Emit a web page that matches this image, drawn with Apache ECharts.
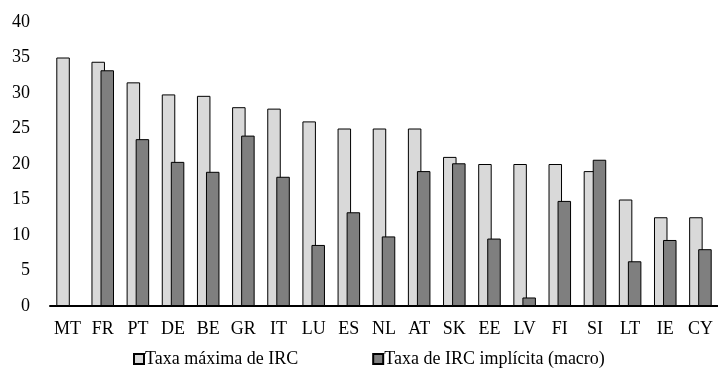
<!DOCTYPE html>
<html>
<head>
<meta charset="utf-8">
<script src="https://cdn.jsdelivr.net/npm/echarts@6/dist/echarts.min.js"></script>
<style>
  html, body { margin: 0; padding: 0; background: #fff; }
  #chart { width: 718px; height: 382px; }
</style>
</head>
<body>
<div id="chart"></div>
<script>
const countries = ['MT', 'FR', 'PT', 'DE', 'BE', 'GR', 'IT', 'LU', 'ES', 'NL', 'AT', 'SK', 'EE', 'LV', 'FI', 'SI', 'LT', 'IE', 'CY']
const taxaMaxima = [35, 34.4, 31.5, 29.8, 29.6, 28, 27.8, 26, 25, 25, 25, 21, 20, 20, 20, 19, 15, 12.5, 12.5]
const taxaImplicita = [null, 33.2, 23.5, 20.3, 18.9, 24, 18.2, 8.6, 13.2, 9.8, 19, 20.1, 9.5, 1.2, 14.8, 20.6, 6.3, 9.3, 8]
const yTicks = { min: 0, max: 40, interval: 5 }

const font = 'Liberation Serif'
const chart = echarts.init(document.getElementById('chart'))
chart.setOption({
  animation: false,
  textStyle: { fontFamily: font },
  grid: { left: 50, right: 0, top: 22, bottom: 76 },
  legend: {
    bottom: 9,
    left: 128,
    icon: 'rect',
    itemWidth: 10,
    itemHeight: 10,
    itemGap: 74,
    textStyle: { fontFamily: font, fontSize: 18, color: '#000', padding: [0, 0, 0, -4] },
  },
  xAxis: {
    type: 'category',
    data: countries,
    axisLine: { lineStyle: { color: '#000', width: 2 } },
    axisTick: { show: false },
    axisLabel: { color: '#000', fontSize: 18, fontFamily: font, margin: 14 },
  },
  yAxis: {
    type: 'value',
    min: yTicks.min,
    max: yTicks.max,
    interval: yTicks.interval,
    axisLine: { show: false },
    axisTick: { show: false },
    splitLine: { show: false },
    axisLabel: { color: '#000', fontSize: 18, fontFamily: font, margin: 20 },
  },
  series: [
    {
      name: 'Taxa máxima de IRC',
      type: 'bar',
      data: taxaMaxima,
      barWidth: 13.5,
      barGap: '-33%',
      itemStyle: { color: '#d9d9d9', borderColor: '#000', borderWidth: 1 },
    },
    {
      name: 'Taxa de IRC implícita (macro)',
      type: 'bar',
      data: taxaImplicita,
      barWidth: 13.5,
      barGap: '-33%',
      itemStyle: { color: '#7f7f7f', borderColor: '#000', borderWidth: 1 },
    },
  ],
})
</script>
</body>
</html>
